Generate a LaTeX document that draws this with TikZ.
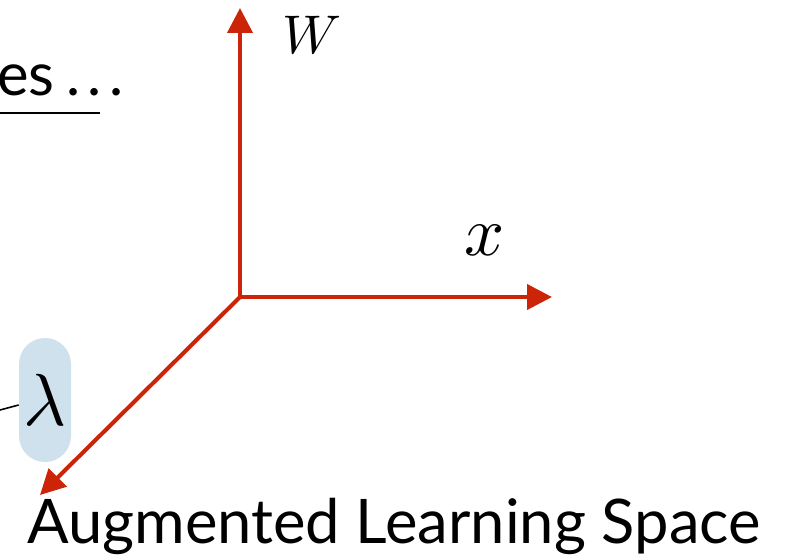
\documentclass[tikz,border=0pt]{standalone}
\usepackage{fontspec}
\setmainfont{Lato}
\usepackage{xcolor}
\usepackage{graphicx}
\usetikzlibrary{arrows.meta}

\definecolor{axisred}{RGB}{204,36,8}
\definecolor{lamblue}{RGB}{206,225,236}

\newcommand{\bigmath}[2]{\scalebox{#1}{$#2$}}

\begin{document}
\begin{tikzpicture}[>={Triangle[length=0.5cm, width=0.5cm]},
        axis/.style={->, draw=axisred, line width=2.3pt},
        lbl/.style={inner sep=0pt},
    ]
    \useasboundingbox (0,0) rectangle (15.82,11.16);
    \clip (0,0) rectangle (15.82,11.16);

    % Origin of the three axes
    \coordinate (o) at (4.8, 5.22);
    \coordinate (wtip) at (4.8, 11.0);
    \coordinate (xtip) at (11.04, 5.22);
    \coordinate (ltip) at (0.8, 1.26);

    % Axes
    \draw[axis] (o) -- (wtip);
    \draw[axis] (o) -- (xtip);
    \draw[axis] (o) -- (ltip);

    % Axis labels
    \node[lbl] (wlab) at (6.24, 10.46) {\bigmath{3.1}{W}};
    \node[lbl] (xlab) at (9.7, 6.36) {\bigmath{4}{x}};

    % Lambda tag
    \node[fill=lamblue, rounded corners=0.52cm, minimum width=1.04cm, minimum height=2.48cm,
          inner sep=0pt] (lam) at (0.9, 3.16) {\raisebox{-0.2cm}{\bigmath{4.2}{\lambda}}};
    \coordinate (lin) at (0, 2.96);
    \draw[line width=0.9pt] (lin) -- ([yshift=-0.1cm]lam.west);

    % Heading fragment
    \node[anchor=base west, inner sep=0pt, font=\fontsize{34}{34}\selectfont] (head) at (-0.06, 9.26) {es\hspace{0.2em}.\hspace{0.12em}.\hspace{0.12em}.};
    \draw[line width=1.1pt] (0, 8.9) -- (2.0, 8.9);

    % Title
    \node[anchor=base, inner sep=0pt, font=\fontsize{35}{35}\selectfont] (title) at (7.88, 0.3) {Augmented Learning Space};

\end{tikzpicture}
\end{document}
